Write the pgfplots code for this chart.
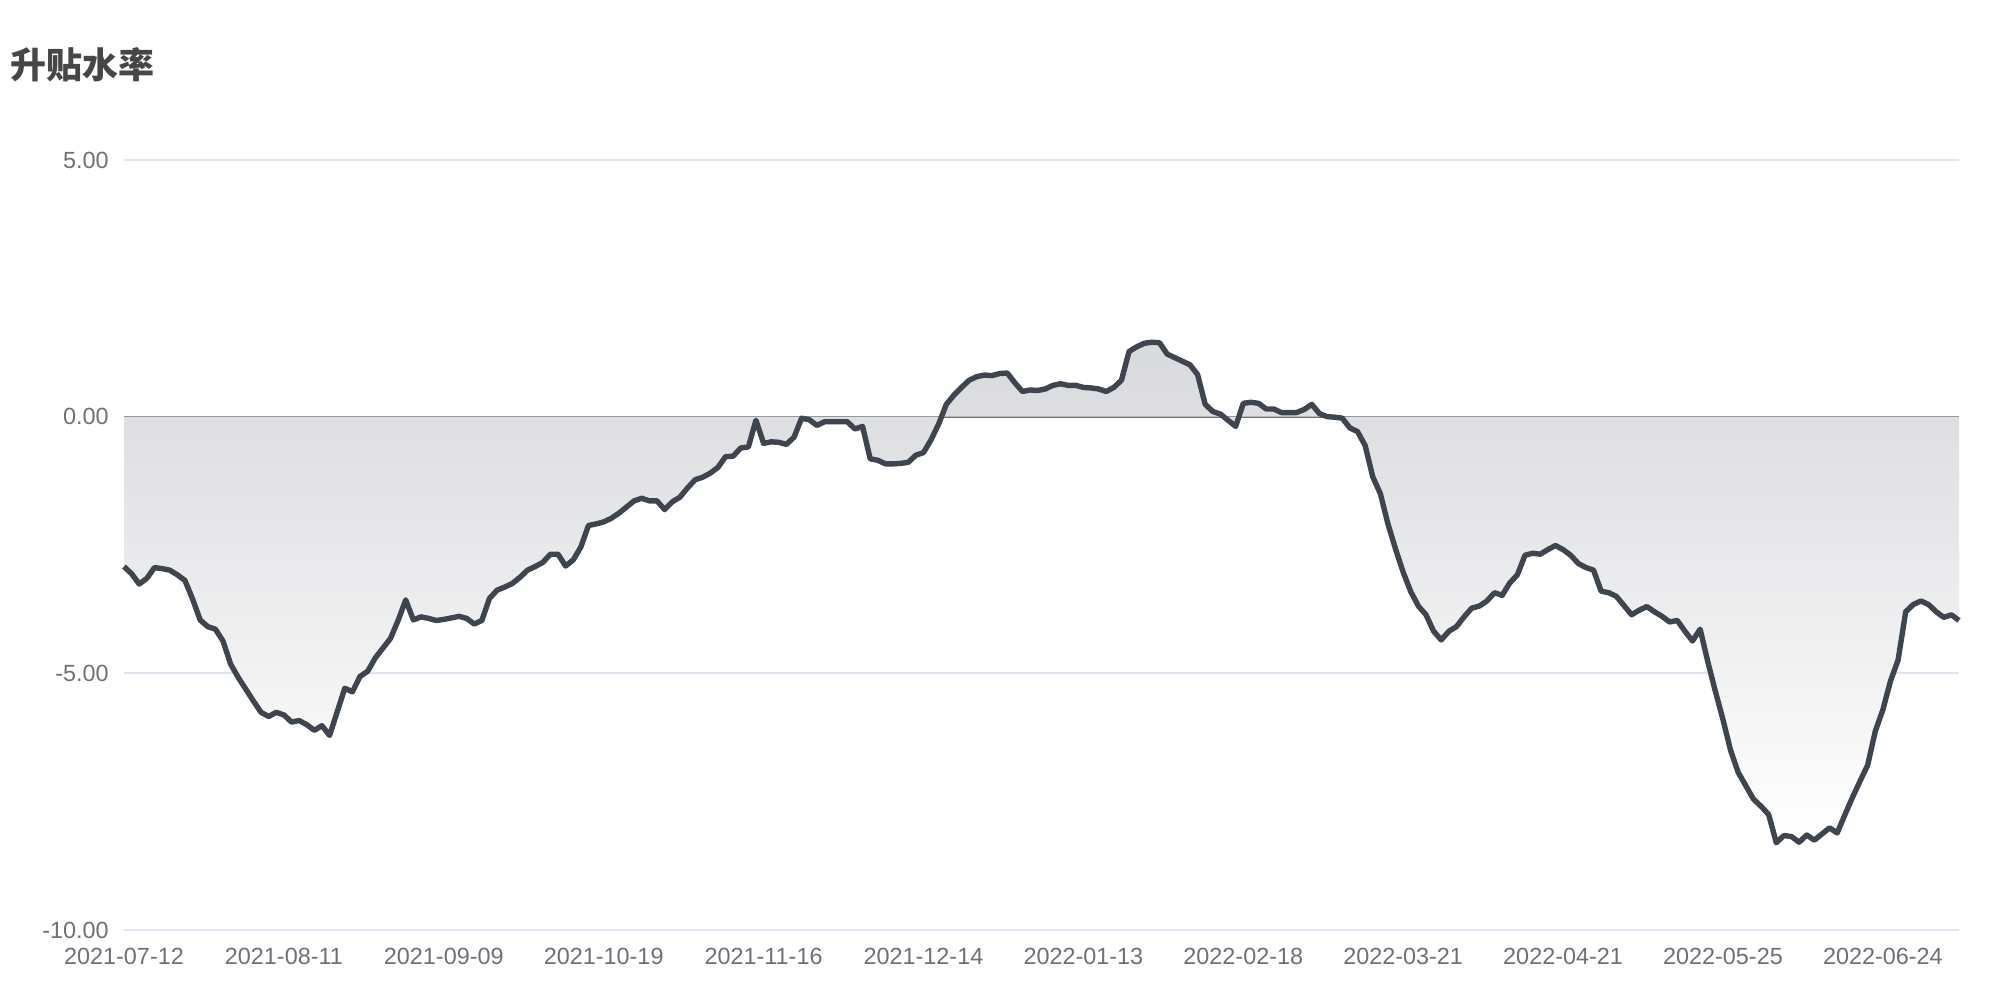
\documentclass[border=0pt]{standalone}
\usepackage{fontspec}
\setmainfont{Liberation Sans}
\newfontfamily\cjk{Noto Sans CJK SC}
\usepackage{pgfplots}
\usepackage{pgfplotstable}
\pgfplotsset{compat=1.18}

\definecolor{lineC}{RGB}{62,69,78}
\definecolor{gridC}{RGB}{224,230,241}
\definecolor{zeroC}{RGB}{110,112,121}
\definecolor{labelC}{RGB}{110,112,121}
\definecolor{titleC}{RGB}{70,70,70}
\definecolor{fillTop}{RGB}{216,217,220}
\definecolor{fillBot}{RGB}{255,255,255}

% fill sits in main, grid above it, curve on top of all
\pgfdeclarelayer{fore}
\pgfplotsset{
  layers/fillunder/.define layer set={
    axis background,axis ticks,axis lines,main,axis grid,
    axis tick labels,fore,axis descriptions,axis foreground
  }{},
}

% 升贴水率, one row per trading day
\pgfplotstableread{
x y
0 -2.92
1 -3.06
2 -3.26
3 -3.15
4 -2.94
5 -2.96
6 -2.99
7 -3.08
8 -3.19
9 -3.55
10 -3.96
11 -4.09
12 -4.14
13 -4.37
14 -4.82
15 -5.08
16 -5.31
17 -5.54
18 -5.76
19 -5.84
20 -5.76
21 -5.81
22 -5.95
23 -5.92
24 -6.00
25 -6.11
26 -6.02
27 -6.21
28 -5.75
29 -5.29
30 -5.36
31 -5.06
32 -4.96
33 -4.70
34 -4.51
35 -4.32
36 -3.97
37 -3.57
38 -3.96
39 -3.90
40 -3.93
41 -3.97
42 -3.95
43 -3.92
44 -3.89
45 -3.93
46 -4.04
47 -3.97
48 -3.54
49 -3.38
50 -3.32
51 -3.25
52 -3.13
53 -2.99
54 -2.92
55 -2.84
56 -2.68
57 -2.68
58 -2.91
59 -2.79
60 -2.54
61 -2.12
62 -2.09
63 -2.05
64 -1.98
65 -1.88
66 -1.76
67 -1.64
68 -1.59
69 -1.64
70 -1.64
71 -1.81
72 -1.66
73 -1.57
74 -1.39
75 -1.23
76 -1.18
77 -1.10
78 -0.99
79 -0.78
80 -0.77
81 -0.61
82 -0.59
83 -0.07
84 -0.52
85 -0.49
86 -0.50
87 -0.54
88 -0.40
89 -0.03
90 -0.06
91 -0.17
92 -0.10
93 -0.10
94 -0.10
95 -0.10
96 -0.24
97 -0.19
98 -0.82
99 -0.85
100 -0.92
101 -0.92
102 -0.91
103 -0.89
104 -0.75
105 -0.70
106 -0.45
107 -0.14
108 0.24
109 0.42
110 0.57
111 0.71
112 0.78
113 0.81
114 0.80
115 0.84
116 0.85
117 0.66
118 0.49
119 0.52
120 0.51
121 0.54
122 0.61
123 0.64
124 0.61
125 0.61
126 0.57
127 0.56
128 0.54
129 0.49
130 0.57
131 0.71
132 1.27
133 1.36
134 1.43
135 1.45
136 1.44
137 1.22
138 1.15
139 1.08
140 1.01
141 0.82
142 0.24
143 0.10
144 0.05
145 -0.07
146 -0.19
147 0.26
148 0.28
149 0.26
150 0.15
151 0.15
152 0.08
153 0.08
154 0.08
155 0.14
156 0.24
157 0.06
158 0.00
159 -0.01
160 -0.03
161 -0.22
162 -0.29
163 -0.56
164 -1.17
165 -1.50
166 -2.09
167 -2.58
168 -3.03
169 -3.41
170 -3.69
171 -3.86
172 -4.18
173 -4.35
174 -4.18
175 -4.09
176 -3.90
177 -3.73
178 -3.69
179 -3.59
180 -3.43
181 -3.48
182 -3.24
183 -3.08
184 -2.70
185 -2.66
186 -2.68
187 -2.59
188 -2.51
189 -2.59
190 -2.70
191 -2.86
192 -2.94
193 -2.99
194 -3.40
195 -3.43
196 -3.50
197 -3.68
198 -3.86
199 -3.77
200 -3.70
201 -3.80
202 -3.89
203 -4.00
204 -3.97
205 -4.18
206 -4.37
207 -4.14
208 -4.77
209 -5.35
210 -5.90
211 -6.50
212 -6.93
213 -7.19
214 -7.45
215 -7.59
216 -7.75
217 -8.30
218 -8.16
219 -8.18
220 -8.29
221 -8.15
222 -8.25
223 -8.13
224 -8.01
225 -8.11
226 -7.76
227 -7.42
228 -7.10
229 -6.79
230 -6.13
231 -5.71
232 -5.15
233 -4.74
234 -3.80
235 -3.66
236 -3.59
237 -3.66
238 -3.80
239 -3.91
240 -3.86
241 -3.97
}\basis

\begin{document}
\begin{tikzpicture}
% page frame, 2000 x 1000 px at 0.5bp per px
\path (0,0) rectangle (1000bp,500bp);
\node[anchor=west, inner sep=0pt, text=titleC, font=\cjk\bfseries\fontsize{18bp}{20bp}\selectfont]
  at (5bp,467.5bp) {升贴水率};
\begin{axis}[
    set layers=fillunder,
    at={(62bp,35bp)}, anchor=south west,
    scale only axis,
    width=917.5bp, height=385bp,
    xmin=0, xmax=241, ymin=-10, ymax=5,
    axis line style={draw=none},
    tick style={draw=none},
    ytick={-10,-5,0,5},
    yticklabels={-10.00,-5.00,0.00,5.00},
    xtick={0,21,...,231},
    xticklabels={2021-07-12,2021-08-11,2021-09-09,2021-10-19,2021-11-16,2021-12-14,
                 2022-01-13,2022-02-18,2022-03-21,2022-04-21,2022-05-25,2022-06-24},
    ymajorgrids,
    grid style={gridC, line width=1bp},
    extra y ticks={0},
    extra y tick labels={},
    extra y tick style={grid style={zeroC, line width=0.9bp}},
    ticklabel style={font=\fontsize{11.7bp}{13bp}\selectfont, text=labelC},
    yticklabel style={inner sep=0pt, xshift=-7.5bp},
    xticklabel style={inner sep=0pt, yshift=-9bp},
]
\addplot[draw=none, top color=fillTop, bottom color=fillBot]
  table[x=x, y=y] {\basis} \closedcycle;
\addplot[lineC, line width=2.7bp, line join=round, mark=none, on layer=fore]
  table[x=x, y=y] {\basis};
\end{axis}
\end{tikzpicture}
\end{document}
